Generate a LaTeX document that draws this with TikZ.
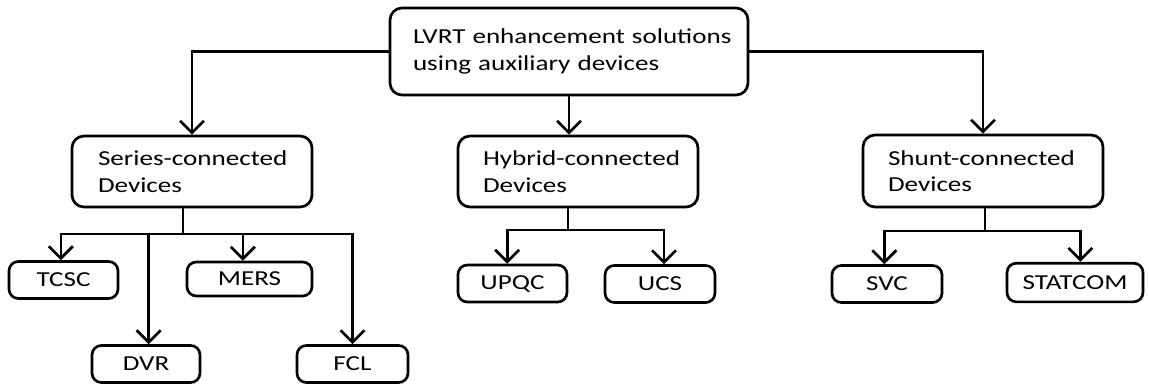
\documentclass[tikz,border=0pt]{standalone}
\usepackage{fontspec}
\setmainfont{Carlito}[FakeStretch=1.27]
\usetikzlibrary{arrows.meta}
\tikzset{
 conn/.style={line width=2pt},
 arr/.style={conn,-{Straight Barb[length=9pt,width=18pt,line width=2pt]}},
 bigbox/.style={draw,line width=2pt,rounded corners=9pt,inner xsep=0pt,inner ysep=0pt,align=left,
   font=\fontsize{16}{20}\selectfont, minimum width=180pt, text width=180pt, minimum height=53.25pt},
 smallbox/.style={draw,line width=2pt,rounded corners=7pt,inner sep=0pt,
   font=\fontsize{16}{20}\selectfont, minimum height=27.75pt},
}
\begin{document}
\begin{tikzpicture}[x=0.75pt,y=-0.75pt]
\useasboundingbox (0,0) rectangle (1149,383);
\node[bigbox, minimum width=268.5pt, text width=268.5pt, minimum height=65.25pt] (root) at (569,51.5)
  {\hspace*{17.25pt}LVRT enhancement solutions\\\hspace*{17.25pt}using auxiliary devices};
\node[bigbox] (ser) at (192,171.5) {\hspace*{19.5pt}Series-connected\\\hspace*{19.5pt}Devices};
\node[bigbox] (hyb) at (578,171.5) {\hspace*{18.75pt}Hybrid-connected\\\hspace*{18.75pt}Devices};
\node[bigbox, minimum height=54pt] (shu) at (983,171) {\hspace*{18.75pt}Shunt-connected\\\hspace*{18.75pt}Devices};

\node[smallbox, minimum width=81.75pt] (tcsc) at (63.5,280) {TCSC};
\node[smallbox, minimum width=93.75pt, minimum height=25.5pt] (mers) at (249.5,279) {MERS};
\node[smallbox, minimum width=81pt] (dvr) at (146,364) {DVR};
\node[smallbox, minimum width=83.25pt] (fcl) at (352.5,364) {FCL};
\node[smallbox, minimum width=81.75pt] (upqc) at (512.5,283.5) {UPQC};
\node[smallbox, minimum width=82.5pt] (ucs) at (660,284) {UCS};
\node[smallbox, minimum width=82.5pt] (svc) at (887,284) {SVC};
\node[smallbox, minimum width=102pt, minimum height=29pt] (stat) at (1075,282.5) {STATCOM};

\draw[arr] (root.west) -| (ser.north);
\draw[arr] (root.south) -- (root.south |- hyb.north);
\draw[arr] (root.east) -| (shu.north);

\coordinate (sj) at (183,234);
\draw[conn] (sj |- ser.south) -- (sj);
\draw[arr] (sj) -| ([xshift=-2pt]tcsc.north);
\draw[arr] (sj) -| ([xshift=2pt]dvr.north);
\draw[arr] (sj) -| ([xshift=-5pt]mers.north);
\draw[arr] (sj) -| (fcl.north);

\coordinate (hj) at (568,230);
\draw[conn] (hj |- hyb.south) -- (hj);
\draw[arr] (hj) -| ([xshift=-4pt]upqc.north);
\draw[arr] (hj) -| ([xshift=3pt]ucs.north);

\coordinate (shj) at (985,231);
\draw[conn] (shj |- shu.south) -- (shj);
\draw[arr] (shj) -| ([xshift=-2pt]svc.north);
\draw[arr] (shj) -| ([xshift=4pt]stat.north);
\end{tikzpicture}
\end{document}
